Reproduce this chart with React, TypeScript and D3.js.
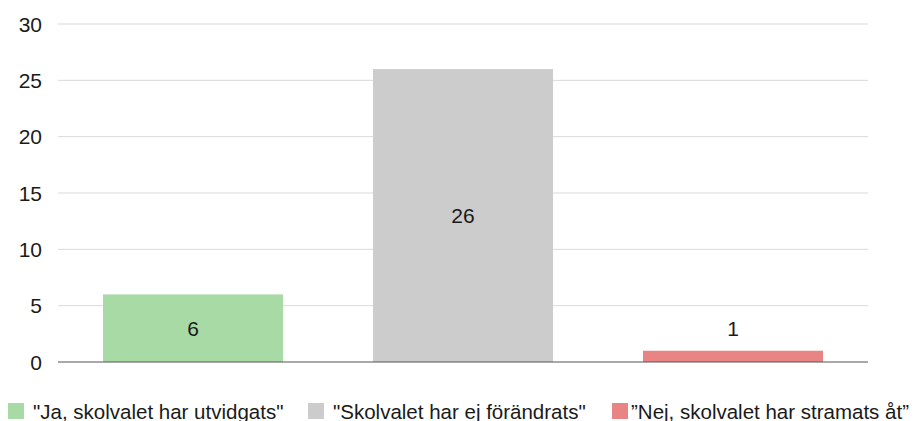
import { useEffect, useRef } from 'react'
import * as d3 from 'd3'

const categories = ['"Ja, skolvalet har utvidgats"', '"Skolvalet har ej förändrats"', '”Nej, skolvalet har stramats åt”']
const values = [6, 26, 1]
const colors = ['#a8daa6', '#cccccc', '#e88483']
const yTicks = [0, 5, 10, 15, 20, 25, 30]

export default function App() {
  const ref = useRef<SVGSVGElement | null>(null)

  useEffect(() => {
    document.body.style.margin = '0'
    const width = 914
    const height = 421
    const svg = d3.select(ref.current)
    svg.selectAll('*').remove()
    svg.attr('width', width).attr('height', height).style('display', 'block')

    const margin = { top: 24, right: 46, bottom: 59, left: 58 }
    const font = 'Liberation Sans, Arial, sans-serif'

    const x = d3
      .scaleBand<string>()
      .domain(categories)
      .range([margin.left, width - margin.right])
      .paddingInner(1 / 3)
      .paddingOuter(1 / 6)
    const y = d3.scaleLinear().domain([0, 30]).range([height - margin.bottom, margin.top])

    // grid
    yTicks.forEach((t) => {
      if (t === 0) return
      svg.append('line')
        .attr('x1', margin.left)
        .attr('x2', width - margin.right)
        .attr('y1', y(t))
        .attr('y2', y(t))
        .attr('stroke', '#d9d9d9')
        .attr('stroke-width', 1)
    })
    yTicks.forEach((t) => {
      svg.append('text')
        .attr('x', 42)
        .attr('y', y(t))
        .attr('text-anchor', 'end')
        .attr('dominant-baseline', 'central')
        .attr('fill', '#1a1a1a')
        .style('font-family', font)
        .style('font-size', '21px')
        .text(t)
    })

    // bars
    categories.forEach((c, i) => {
      const v = values[i]
      svg.append('rect')
        .attr('x', x(c)!)
        .attr('y', y(v))
        .attr('width', x.bandwidth())
        .attr('height', y(0) - y(v))
        .attr('fill', colors[i])
      const inside = y(0) - y(v) > 30
      svg.append('text')
        .attr('x', x(c)! + x.bandwidth() / 2)
        .attr('y', inside ? (y(v) + y(0)) / 2 : y(v) - 22)
        .attr('text-anchor', 'middle')
        .attr('dominant-baseline', 'central')
        .attr('fill', '#1a1a1a')
        .style('font-family', font)
        .style('font-size', '21px')
        .text(v)
    })

    // baseline
    svg.append('line')
      .attr('x1', margin.left)
      .attr('x2', width - margin.right)
      .attr('y1', y(0))
      .attr('y2', y(0))
      .attr('stroke', '#555')
      .attr('stroke-width', 1.2)

    // legend
    const legendX = [8, 308, 612]
    const textX = [33, 333, 631]
    categories.forEach((c, i) => {
      svg.append('rect')
        .attr('x', legendX[i])
        .attr('y', 403)
        .attr('width', 16)
        .attr('height', 16)
        .attr('fill', colors[i])
      svg.append('text')
        .attr('x', textX[i])
        .attr('y', 411)
        .attr('dominant-baseline', 'central')
        .attr('fill', '#1a1a1a')
        .style('font-family', font)
        .style('font-size', '20.5px')
        .text(c)
    })
  }, [])

  return <svg ref={ref} />
}
